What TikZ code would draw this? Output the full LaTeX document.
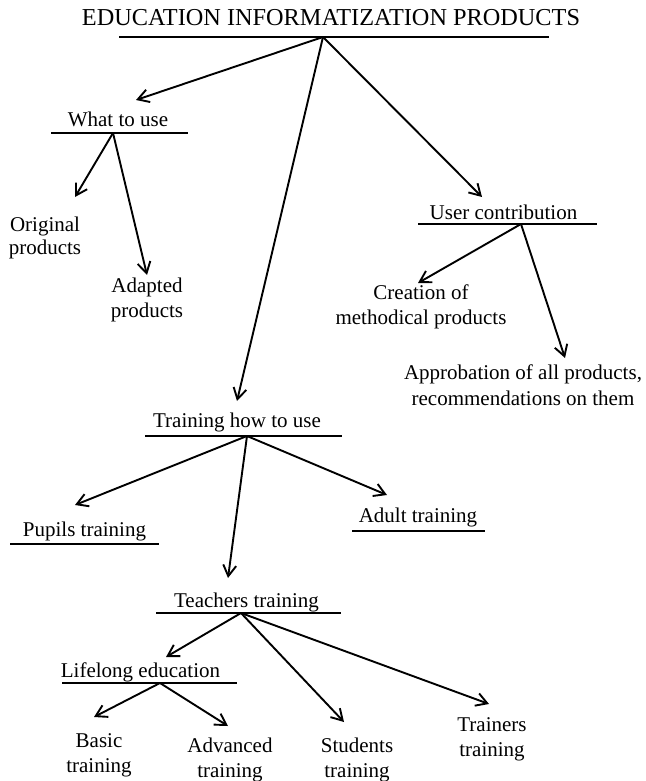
\documentclass[tikz,border=0pt]{standalone}
\usepackage{fontspec}
\setmainfont{Liberation Serif}
\usetikzlibrary{arrows.meta}
\begin{document}
\begin{tikzpicture}[x=1pt,y=-1pt,
  txt/.style={inner sep=0pt, anchor=base, align=center,
    font=\fontsize{21}{25}\selectfont},
  titletext/.style={inner sep=0pt, anchor=base,
    font=\fontsize{24.3}{28}\selectfont},
  rulebar/.style={line width=2pt},
  toprule/.style={line width=2.6pt},
  link/.style={line width=1.9pt, -{Straight Barb[length=11pt,width=13pt]}}]
\useasboundingbox (0,0) rectangle (645,781);

% ---- headings and their underlines ----
\node[titletext] (title) at (331,26) {EDUCATION INFORMATIZATION PRODUCTS};
\coordinate (titleL) at (119,37); \coordinate (titleR) at (549,37);
\coordinate (root) at (323,37);
\draw[toprule] (titleL) -- (titleR);

\node[txt] (what) at (118,127) {What to use};
\coordinate (whatL) at (51,133); \coordinate (whatR) at (188,133);
\coordinate (whatB) at (113,133);
\draw[rulebar] (whatL) -- (whatR);

\node[txt] (user) at (503.5,219) {User contribution};
\coordinate (userL) at (418,224); \coordinate (userR) at (597,224);
\coordinate (userB) at (521,224);
\draw[rulebar] (userL) -- (userR);

\node[txt] (howto) at (237,427) {Training how to use};
\coordinate (howtoL) at (145,436); \coordinate (howtoR) at (342,436);
\coordinate (howtoB) at (247,436);
\draw[rulebar] (howtoL) -- (howtoR);

\node[txt] (pupils) at (84.5,536) {Pupils training};
\coordinate (pupilsL) at (10,544); \coordinate (pupilsR) at (159,544);
\draw[rulebar] (pupilsL) -- (pupilsR);

\node[txt] (adult) at (418,522) {Adult training};
\coordinate (adultL) at (352,531); \coordinate (adultR) at (485,531);
\draw[rulebar] (adultL) -- (adultR);

\node[txt] (teachers) at (246.5,607) {Teachers training};
\coordinate (teachersL) at (156,613); \coordinate (teachersR) at (341,613);
\coordinate (teachersB) at (241,613);
\draw[rulebar] (teachersL) -- (teachersR);

\node[txt] (lifelong) at (140.5,677) {Lifelong education};
\coordinate (lifelongL) at (62,683); \coordinate (lifelongR) at (237,683);
\coordinate (lifelongB) at (160,683);
\draw[rulebar] (lifelongL) -- (lifelongR);

% ---- leaf labels (placed at the baseline of their last line) ----
\node[txt] (original) at (45,254) {Original\\[-2pt]products};
\node[txt] (adapted) at (147,317) {Adapted\\products};
\node[txt] (creation) at (421,324) {Creation of\\methodical products};
\node[txt] (approb) at (523,405) {Approbation of all products,\\[1pt]recommendations on them};
\node[txt] (basic) at (99,772) {Basic\\training};
\node[txt] (advanced) at (230,777) {Advanced\\training};
\node[txt] (students) at (357,777) {Students\\training};
\node[txt] (trainers) at (492,756) {Trainers\\training};

% ---- arrow ends ----
\coordinate (toWhat) at (136,100);
\coordinate (toHowto) at (237,401);
\coordinate (toUser) at (482,197);
\coordinate (toOriginal) at (75,197);
\coordinate (toAdapted) at (147,275);
\coordinate (toCreation) at (418,283);
\coordinate (toApprob) at (565,358);
\coordinate (toPupils) at (75,505);
\coordinate (toTeachers) at (228,578);
\coordinate (toAdult) at (387,495);
\coordinate (toLifelong) at (166,657);
\coordinate (toStudents) at (344,722);
\coordinate (toTrainers) at (489,704);
\coordinate (toBasic) at (94,717);
\coordinate (toAdvanced) at (228,726);

% ---- connectors ----
\draw[link] (root) -- (toWhat);
\draw[link] (root) -- (toHowto);
\draw[link] (root) -- (toUser);
\draw[link] (whatB) -- (toOriginal);
\draw[link] (whatB) -- (toAdapted);
\draw[link] (userB) -- (toCreation);
\draw[link] (userB) -- (toApprob);
\draw[link] (howtoB) -- (toPupils);
\draw[link] (howtoB) -- (toTeachers);
\draw[link] (howtoB) -- (toAdult);
\draw[link] (teachersB) -- (toLifelong);
\draw[link] (teachersB) -- (toStudents);
\draw[link] (teachersB) -- (toTrainers);
\draw[link] (lifelongB) -- (toBasic);
\draw[link] (lifelongB) -- (toAdvanced);
\end{tikzpicture}
\end{document}
